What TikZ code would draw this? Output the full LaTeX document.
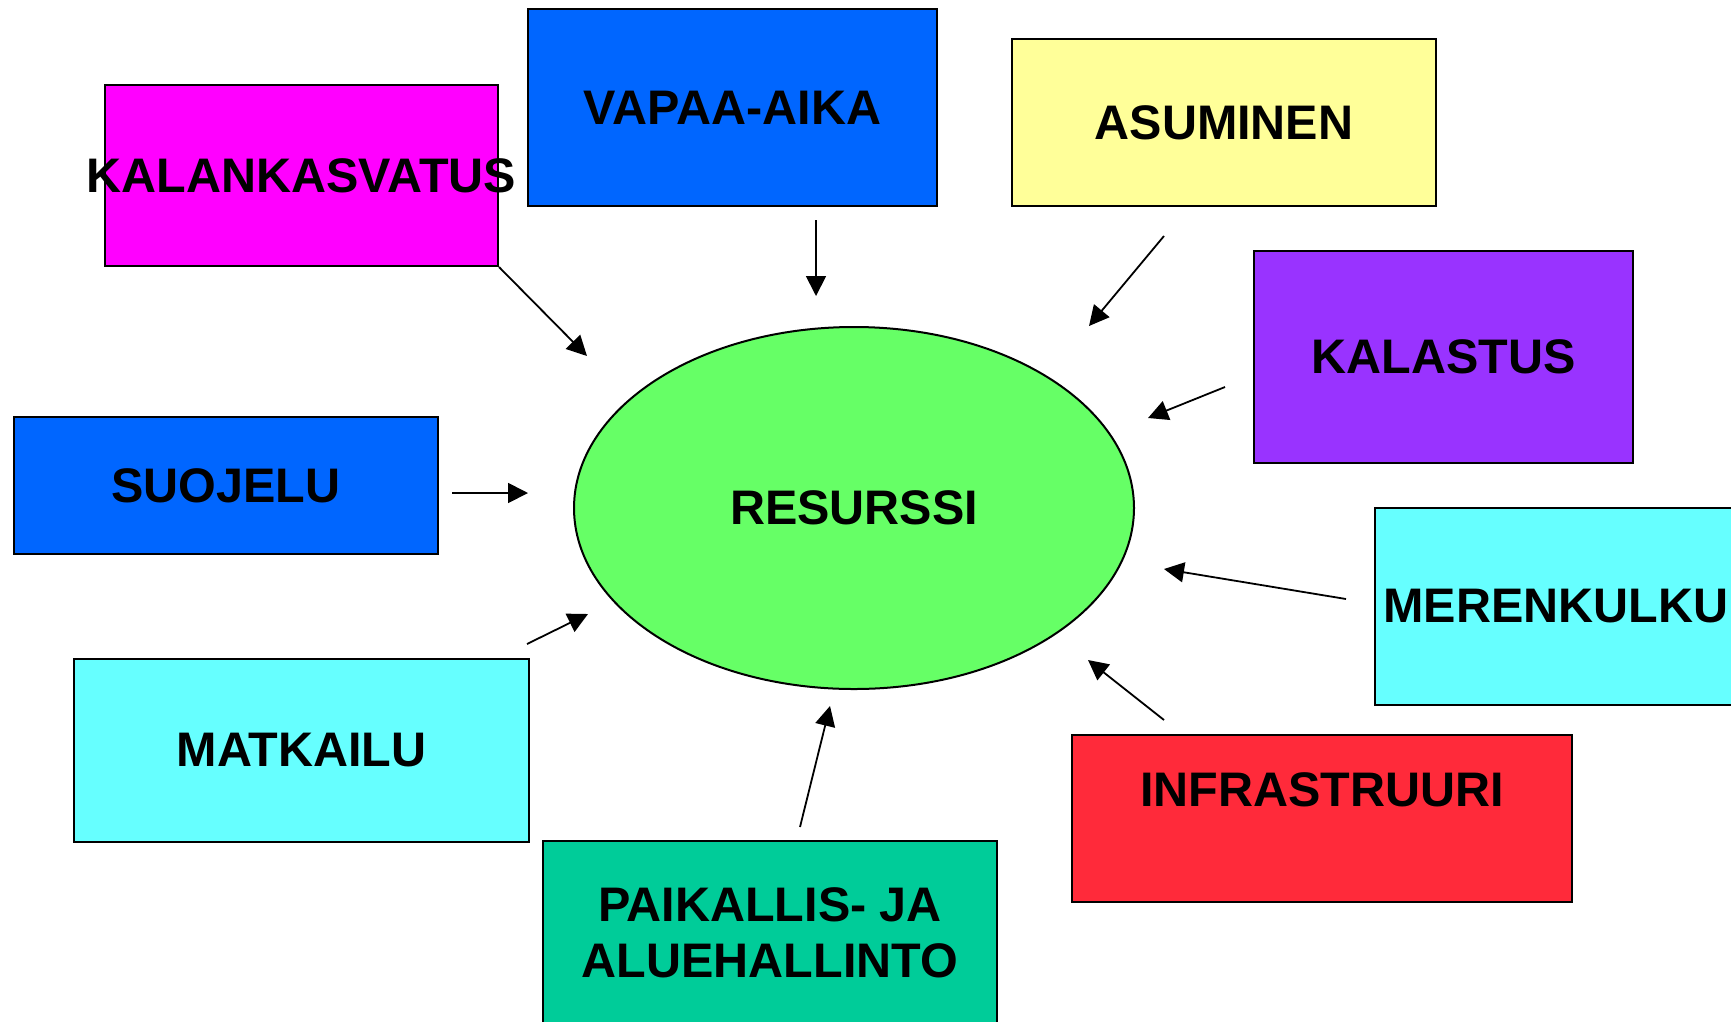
\documentclass[tikz,border=0pt]{standalone}
\usepackage{fontspec}
\setmainfont{Liberation Sans}
\usepackage{tikz}
\usetikzlibrary{arrows.meta}
\usetikzlibrary{shapes.geometric}
\definecolor{kmagenta}{RGB}{255,0,255}
\definecolor{kblue}{RGB}{0,102,255}
\definecolor{kyellow}{RGB}{255,255,153}
\definecolor{kpurple}{RGB}{153,51,255}
\definecolor{kcyan}{RGB}{102,255,255}
\definecolor{kgreen}{RGB}{102,255,102}
\definecolor{kteal}{RGB}{0,204,153}
\definecolor{kred}{RGB}{255,42,58}

\begin{document}
\begin{tikzpicture}[x=1pt,y=-1pt,
  sector/.style={draw,line width=2pt,rectangle,inner sep=0pt,align=center,
    font=\bfseries\fontsize{48.5}{56}\selectfont},
  arr/.style={line width=1.8pt,-{Triangle[length=20pt,width=20pt]}}]
\useasboundingbox (0,0) rectangle (1731,1021);
\clip (0,0) rectangle (1731,1021);
\fill[white] (0,0) rectangle (1731,1021);
% the resource in the middle
\draw[] (854,508) node[ellipse,draw,line width=2pt,fill=kgreen,inner sep=0pt,minimum width=560pt,minimum height=362pt,font=\bfseries\fontsize{48.5}{56}\selectfont] (resurssi) {RESURSSI};
% the uses round it
\draw[] (301.5,175.5) node[sector,fill=kmagenta,minimum width=393pt,minimum height=181pt] (kalankasvatus) {\makebox[0pt]{KALANKASVATUS}};
\draw[] (732.5,107.5) node[sector,fill=kblue,minimum width=409pt,minimum height=197pt] (vapaa) {VAPAA-AIKA};
\draw[] (1224,122.5) node[sector,fill=kyellow,minimum width=424pt,minimum height=167pt] (asuminen) {ASUMINEN};
\draw[] (1443.5,357) node[sector,fill=kpurple,minimum width=379pt,minimum height=212pt] (kalastus) {KALASTUS};
\draw[] (226,485.5) node[sector,fill=kblue,minimum width=424pt,minimum height=137pt] (suojelu) {SUOJELU};
\draw[] (1556,606.5) node[sector,fill=kcyan,minimum width=362pt,minimum height=197pt] (merenkulku) {MERENKULKU};
\draw[] (301.5,750.5) node[sector,fill=kcyan,minimum width=455pt,minimum height=183pt] (matkailu) {MATKAILU};
\draw[] (1322,818.5) node[sector,fill=kred,minimum width=500pt,minimum height=167pt] (infra) {};
\draw[] ([yshift=28.5pt]infra.center) node[sector,draw=none] (infratext) {INFRASTRUURI};
\draw[] (770,932.5) node[sector,fill=kteal,minimum width=454pt,minimum height=183pt] (hallinto) {PAIKALLIS- JA\hspace{11pt}\\ALUEHALLINTO};
% loose ends of the arrows
\coordinate (vapaaout) at (816,220);
\coordinate (vapaain) at (816,296);
\coordinate (kalaout) at (587,356);
\coordinate (asout) at (1164,236);
\coordinate (asin) at (1089,326);
\coordinate (kalastusout) at (1225,387);
\coordinate (kalastusin) at (1148,418);
\coordinate (suojout) at (452,493);
\coordinate (suojin) at (528,493);
\coordinate (matkout) at (527,644);
\coordinate (matkin) at (588,614);
\coordinate (hallout) at (800,827);
\coordinate (hallin) at (830,706);
\coordinate (infraout) at (1164,720);
\coordinate (infrain) at (1088,660);
\coordinate (merout) at (1346,599);
\coordinate (merin) at (1164,569);
% arrows
\draw[arr] (kalankasvatus.south east) -- (kalaout);
\draw[arr] (vapaaout) -- (vapaain);
\draw[arr] (asout) -- (asin);
\draw[arr] (kalastusout) -- (kalastusin);
\draw[arr] (suojout) -- (suojin);
\draw[arr] (matkout) -- (matkin);
\draw[arr] (hallout) -- (hallin);
\draw[arr] (infraout) -- (infrain);
\draw[arr] (merout) -- (merin);
\end{tikzpicture}
\end{document}
